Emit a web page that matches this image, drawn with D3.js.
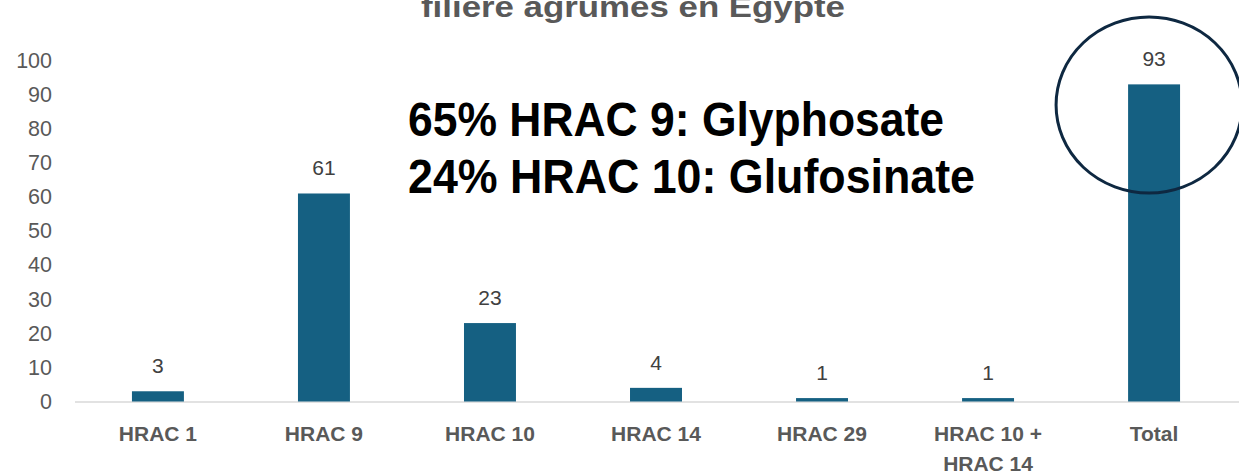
<!DOCTYPE html>
<html>
<head>
<meta charset="utf-8">
<script src="https://cdn.jsdelivr.net/npm/d3@7"></script>
<style>
  body { margin: 0; background: #fff; }
  svg { display: block; font-family: "Liberation Sans", Arial, sans-serif; }
</style>
</head>
<body>
<svg width="1239" height="472"></svg>
<script>
// data
const categories = ['HRAC 1', 'HRAC 9', 'HRAC 10', 'HRAC 14', 'HRAC 29', 'HRAC 10 + HRAC 14', 'Total']
const values = [3, 61, 23, 4, 1, 1, 93]
const yTicks = [0, 10, 20, 30, 40, 50, 60, 70, 80, 90, 100]
const titleText = 'filière agrumes en Egypte'
const notes = ['65% HRAC 9: Glyphosate', '24% HRAC 10: Glufosinate']

const svg = d3.select('svg')

const x = d3.scaleBand().domain(categories).range([75, 1237]).paddingInner(0.687).paddingOuter(0.343)
const y = d3.scaleLinear().domain([0, 100]).range([401.5, 60.5])

// title (first line is off the top of the picture)
svg.append('text')
  .attr('x', 633).attr('y', 17)
  .attr('text-anchor', 'middle')
  .attr('font-size', 29).attr('font-weight', 'bold')
  .attr('fill', '#595959')
  .attr('textLength', 424).attr('lengthAdjust', 'spacingAndGlyphs')
  .text(titleText)

// y axis labels
const yAxis = d3.axisLeft(y).tickValues(yTicks).tickSize(0).tickPadding(0)
svg.append('g')
  .attr('transform', 'translate(52,0)')
  .call(yAxis)
  .call(g => g.select('.domain').remove())
  .call(g => g.selectAll('text')
    .attr('font-family', '"Liberation Sans", Arial, sans-serif')
    .attr('font-size', 21.5).attr('fill', '#595959'))

// baseline
svg.append('line')
  .attr('x1', 75).attr('x2', 1239)
  .attr('y1', y(0) + 0.5).attr('y2', y(0) + 0.5)
  .attr('stroke', '#d9d9d9').attr('stroke-width', 1.5)

// bars
svg.append('g').selectAll('rect')
  .data(values)
  .join('rect')
  .attr('x', (d, i) => x(categories[i]))
  .attr('width', x.bandwidth())
  .attr('y', d => y(d))
  .attr('height', d => y(0) - y(d))
  .attr('fill', '#156082')

// value labels
svg.append('g').selectAll('text')
  .data(values)
  .join('text')
  .attr('x', (d, i) => x(categories[i]) + x.bandwidth() / 2)
  .attr('y', d => y(d) - 18)
  .attr('text-anchor', 'middle')
  .attr('font-size', 21).attr('fill', '#404040')
  .text(d => d)

// category labels (wrapped)
const xAxis = d3.axisBottom(x).tickSize(0).tickPadding(0)
svg.append('g')
  .attr('transform', `translate(0,${y(0)})`)
  .call(xAxis)
  .call(g => g.select('.domain').remove())
  .call(g => g.selectAll('text')
    .attr('font-family', '"Liberation Sans", Arial, sans-serif')
    .attr('font-size', 21).attr('font-weight', 'bold').attr('fill', '#595959')
    .attr('dy', null).attr('y', 39)
    .each(function (d) {
      const t = d3.select(this)
      const lines = d === 'HRAC 10 + HRAC 14' ? ['HRAC 10 +', 'HRAC 14'] : [d]
      t.text(null)
      lines.forEach((l, i) => t.append('tspan').attr('x', 0).attr('dy', i ? 30 : 0).text(l))
    }))

// annotation
svg.append('g').selectAll('text')
  .data(notes)
  .join('text')
  .attr('x', 408)
  .attr('y', (d, i) => 136 + i * 57)
  .attr('font-size', 48).attr('font-weight', 'bold').attr('fill', '#000')
  .attr('textLength', (d, i) => i ? 567 : 536).attr('lengthAdjust', 'spacingAndGlyphs')
  .text(d => d)

// highlight circle on Total
svg.append('ellipse')
  .attr('cx', x('Total') + x.bandwidth() / 2 - 5)
  .attr('cy', 105)
  .attr('rx', 93).attr('ry', 88)
  .attr('fill', 'none')
  .attr('stroke', '#0e2841').attr('stroke-width', 3)
</script>
</body>
</html>
